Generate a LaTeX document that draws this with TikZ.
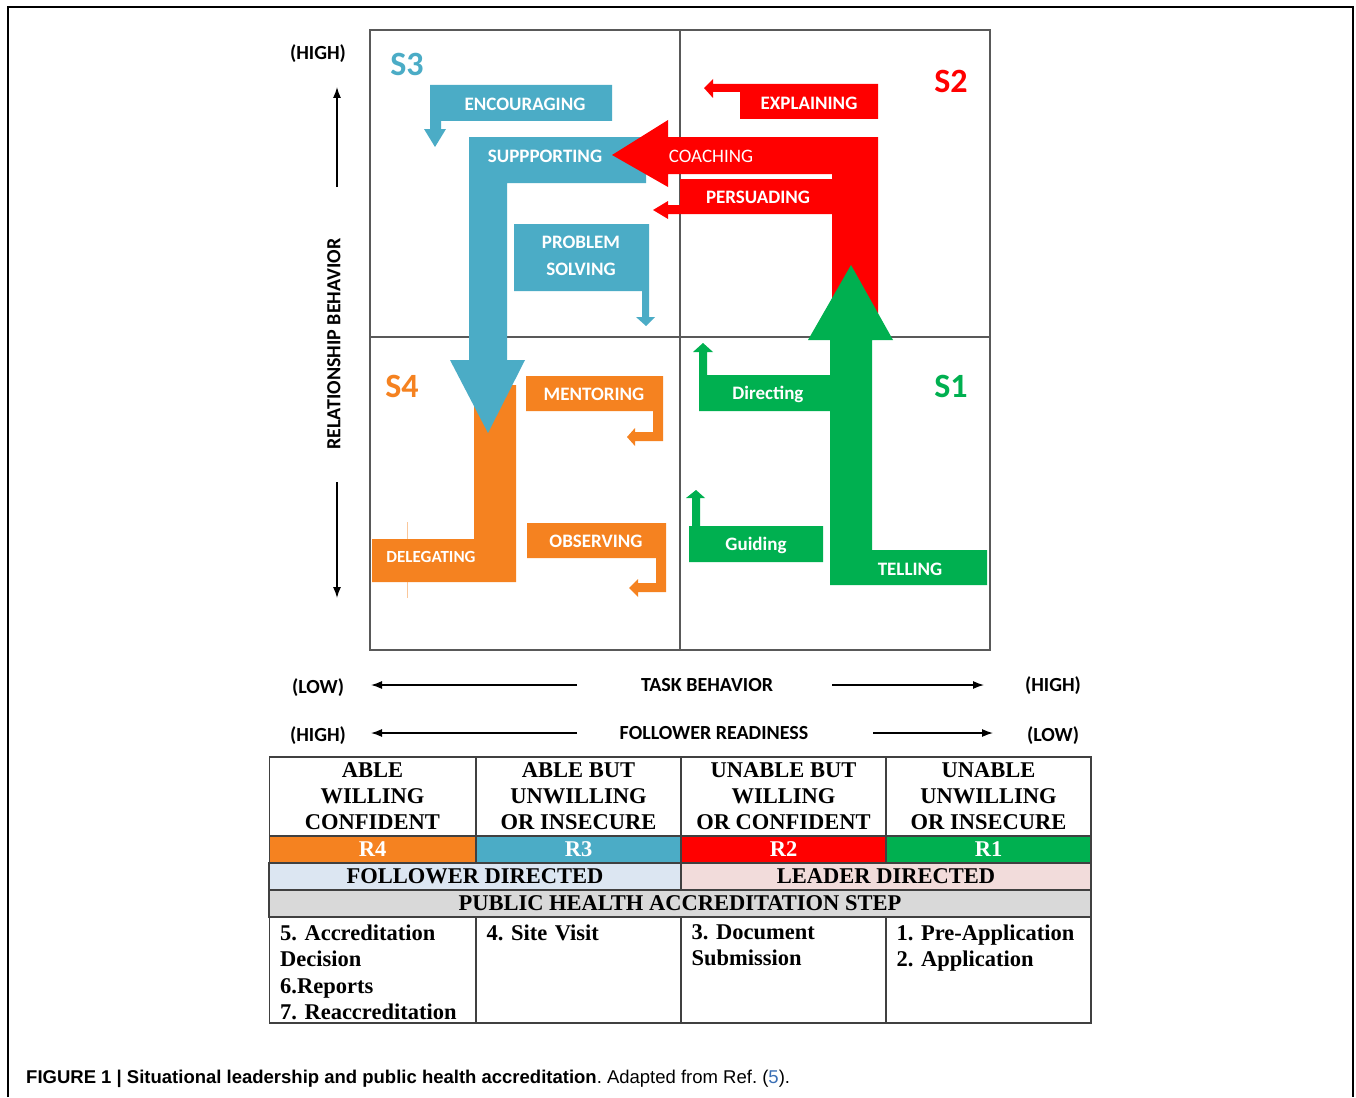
\documentclass[tikz,border=0pt]{standalone}
\usepackage{fontspec}
\setmainfont{Liberation Serif}
\newfontfamily\calfont{Carlito}
\newfontfamily\capfont{Liberation Sans}
\usepackage{tikz}
\usetikzlibrary{arrows.meta}
\frenchspacing

\definecolor{slorange}{HTML}{F58220}
\definecolor{slblue}{HTML}{4BACC6}
\definecolor{slred}{HTML}{FF0000}
\definecolor{slgreen}{HTML}{00B050}
\definecolor{folblue}{HTML}{DCE6F2}
\definecolor{leadpink}{HTML}{F2DCDB}
\definecolor{phgray}{HTML}{D9D9D9}
\definecolor{reflink}{HTML}{3A6FB5}

\tikzset{
  actlbl/.style={font=\calfont\bfseries\fontsize{19}{27}\selectfont,text=white,inner sep=0pt,align=center},
  slabel/.style={font=\calfont\bfseries\fontsize{34}{40}\selectfont,inner sep=0pt},
  axlbl/.style={font=\calfont\bfseries\fontsize{20}{24}\selectfont,inner sep=0pt},
  axarrow/.style={line width=1.3pt,-{Latex[length=11pt,width=8pt]}},
  quadline/.style={draw=black!65,line width=1.1pt},
  tcell/.style={draw=black!75,line width=1.1pt,minimum width=#1,minimum height=27pt,
    inner sep=0pt,align=center,font=\bfseries\fontsize{22.5}{26}\selectfont},
  steptxt/.style={anchor=north west,inner sep=0pt,text width=195pt,align=left,
    font=\bfseries\fontsize{22.5}{26.4}\selectfont}
}

\begin{document}
\begin{tikzpicture}[x=1pt,y=-1pt]
\useasboundingbox (0,0) rectangle (1356,1097);
\fill[white] (0,0) rectangle (1356,1097);
\draw[line width=1.5pt] (8,1097) -- (8,7) -- (1353,7) -- (1353,1097);

% quadrants
\draw[quadline] (370,30) rectangle (990,650);
\draw[quadline] (680,30) -- (680,650);
\draw[quadline] (370,337) -- (990,337);

% S4
\draw[slorange!45,line width=0.8pt] (407,522) -- (407,598);
\fill[slorange] (474,385) -- (516,385) -- (516,582) -- (372,582) -- (372,539) -- (474,539) -- cycle;
\fill[slorange] (526,376) -- (663,376) -- (663,441) -- (635,441) -- (635,446) -- (627,437)
  -- (635,428) -- (635,432) -- (653,432) -- (653,411) -- (526,411) -- cycle;
\fill[slorange] (527,523) -- (666,523) -- (666,592) -- (638,592) -- (638,597) -- (629,588)
  -- (638,579) -- (638,583) -- (656,583) -- (656,558) -- (527,558) -- cycle;

% S3
\fill[slblue] (430,85) -- (612,85) -- (612,121) -- (441,121) -- (441,129) -- (446,129)
  -- (435,147) -- (424,129) -- (430,129) -- cycle;
\fill[slblue] (469,137) -- (646,137) -- (646,183) -- (507,183) -- (507,360) -- (525,360)
  -- (488,433) -- (450,360) -- (469,360) -- cycle;
\fill[slblue] (514,224) -- (649,224) -- (649,317) -- (655,317) -- (646,326) -- (636,317)
  -- (642,317) -- (642,291) -- (514,291) -- cycle;

% S2
\fill[slred] (878,137) -- (878,313) -- (832,313) -- (832,174) -- (668,174) -- (668,187)
  -- (612,155) -- (668,120) -- (668,137) -- cycle;
\fill[slred] (680,179) -- (832,179) -- (832,214) -- (668,214) -- (668,219) -- (653,210)
  -- (668,201) -- (668,205) -- (680,205) -- cycle;
\fill[slred] (740,84) -- (878,84) -- (878,119) -- (740,119) -- (740,92) -- (713,92)
  -- (713,98) -- (704,88) -- (713,79) -- (713,84) -- cycle;

% S1
\fill[slgreen] (830,585) -- (830,340) -- (808,340) -- (851,265) -- (893,340) -- (872,340)
  -- (872,550) -- (987,550) -- (987,585) -- cycle;
\fill[slgreen] (707,375) -- (830,375) -- (830,411) -- (699,411) -- (699,352) -- (693,352)
  -- (703,343) -- (713,352) -- (707,352) -- cycle;
\fill[slgreen] (700,526) -- (823,526) -- (823,562) -- (689,562) -- (689,526) -- (692,526)
  -- (692,498) -- (686,498) -- (696,490) -- (705,498) -- (700,498) -- cycle;

\node[slabel,text=slblue] (s3) at (407,64) {S3};
\node[slabel,text=slred] (s2) at (951,81) {S2};
\node[slabel,text=slorange] (s4) at (402,386) {S4};
\node[slabel,text=slgreen] (s1) at (951,386) {S1};

\node[actlbl] (encour) at (525,104) {ENCOURAGING};
\node[actlbl] (support) at (545,156) {SUPPPORTING};
\node[actlbl] (probsolv) at (581,256) {PROBLEM\\SOLVING};
\node[actlbl,font=\calfont\fontsize{19}{23}\selectfont] (coach) at (711,156) {COACHING};
\node[actlbl] (persuad) at (758,197) {PERSUADING};
\node[actlbl] (explain) at (809,103) {EXPLAINING};
\node[actlbl] (direct) at (768,394) {Directing};
\node[actlbl] (guide) at (756,545) {Guiding};
\node[actlbl] (tell) at (910,569) {TELLING};
\node[actlbl] (mentor) at (594,394) {MENTORING};
\node[actlbl] (observ) at (596,541) {OBSERVING};
\node[actlbl,font=\calfont\bfseries\fontsize{17}{21}\selectfont] (deleg) at (431,557) {DELEGATING};

% axes
\node[axlbl] (relhigh) at (318,54) {(HIGH)};
\node[axlbl,rotate=90] (relbeh) at (334,344) {RELATIONSHIP BEHAVIOR};
\coordinate (rel-a) at (337,187);
\coordinate (rel-b) at (337,87);
\coordinate (rel-c) at (337,482);
\coordinate (rel-d) at (337,598);
\draw[axarrow] (rel-a) -- (rel-b);
\draw[axarrow] (rel-c) -- (rel-d);

\node[axlbl] (tasklow) at (318,688) {(LOW)};
\node[axlbl] (taskbeh) at (707,685) {TASK BEHAVIOR};
\node[axlbl] (taskhigh) at (1053,686) {(HIGH)};
\coordinate (task-a) at (577,685);
\coordinate (task-b) at (371,685);
\coordinate (task-c) at (832,685);
\coordinate (task-d) at (984,685);
\draw[axarrow] (task-a) -- (task-b);
\draw[axarrow] (task-c) -- (task-d);

\node[axlbl] (folhigh) at (318,736) {(HIGH)};
\node[axlbl] (folread) at (714,733) {FOLLOWER READINESS};
\node[axlbl] (follow) at (1053,736) {(LOW)};
\coordinate (fol-a) at (577,733);
\coordinate (fol-b) at (371,733);
\coordinate (fol-c) at (873,733);
\coordinate (fol-d) at (993,733);
\draw[axarrow] (fol-a) -- (fol-b);
\draw[axarrow] (fol-c) -- (fol-d);

% table
\node[tcell=206,minimum height=79] (h4) at (372.5,796.5) {ABLE\\WILLING\\CONFIDENT};
\node[tcell=205,minimum height=79] (h3) at (578.5,796.5) {ABLE BUT\\UNWILLING\\OR INSECURE};
\node[tcell=205,minimum height=79] (h2) at (783.5,796.5) {UNABLE BUT\\WILLING\\OR CONFIDENT};
\node[tcell=205,minimum height=79] (h1) at (988.5,796.5) {UNABLE\\UNWILLING\\OR INSECURE};
\node[tcell=206,fill=slorange,text=white] (r4) at (372.5,849.5) {R4};
\node[tcell=205,fill=slblue,text=white] (r3) at (578.5,849.5) {R3};
\node[tcell=205,fill=slred,text=white] (r2) at (783.5,849.5) {R2};
\node[tcell=205,fill=slgreen,text=white] (r1) at (988.5,849.5) {R1};
\node[tcell=412,fill=folblue] (foldir) at (475,876.5) {FOLLOWER DIRECTED};
\node[tcell=410,fill=leadpink] (leaddir) at (886,876.5) {LEADER DIRECTED};
\node[tcell=822,fill=phgray] (phstep) at (680,903.5) {PUBLIC HEALTH ACCREDITATION STEP};
\node[tcell=206,minimum height=106] (st4) at (372.5,970) {};
\node[tcell=205,minimum height=106] (st3) at (578.5,970) {};
\node[tcell=205,minimum height=106] (st2) at (783.5,970) {};
\node[tcell=205,minimum height=106] (st1) at (988.5,970) {};
\node[steptxt] (st4t) at ([shift={(11,8)}]st4.north west) {5. Accreditation\\Decision\\6.Reports\\7. Reaccreditation};
\node[steptxt] (st3t) at ([shift={(11,8)}]st3.north west) {4. Site Visit};
\node[steptxt] (st2t) at ([shift={(11,8)}]st2.north west) {3. Document\\Submission};
\node[steptxt] (st1t) at ([shift={(11,8)}]st1.north west) {1. Pre-Application\\2. Application};

\node[anchor=base west,inner sep=0pt,font=\capfont\fontsize{18.5}{22}\selectfont] (caption) at (26,1083)
  {\textbf{FIGURE 1 | Situational leadership and public health accreditation}. Adapted from Ref. (\textcolor{reflink}{5}).};
\end{tikzpicture}
\end{document}
